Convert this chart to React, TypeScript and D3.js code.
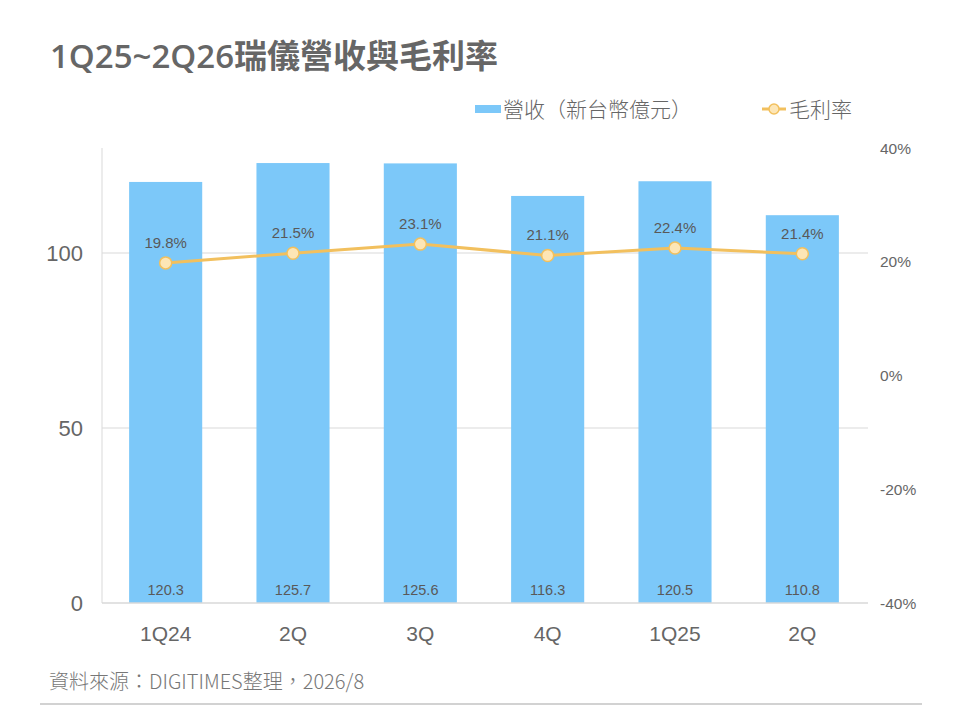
import * as d3 from 'd3';

const quarters = ['1Q24', '2Q', '3Q', '4Q', '1Q25', '2Q'];
const revenue = [120.3, 125.7, 125.6, 116.3, 120.5, 110.8];
const grossMargin = [19.8, 21.5, 23.1, 21.1, 22.4, 21.4];
const leftTicks = [0, 50, 100];
const rightTicks = [-40, -20, 0, 20, 40];

const W = 960;
const H = 720;
const plot = { left: 102, right: 866, top: 148, bottom: 603 };

const LATIN = '"Liberation Sans", Arial, "Noto Sans CJK TC", sans-serif';
const TITLE = '"Open Sans", "Noto Sans CJK TC", sans-serif';
const CJK = '"Noto Sans CJK TC", sans-serif';
const BAR = '#7cc8f9';
const LINE = '#f2c05e';
const TEXT = '#666666';
const GRID = '#d9d9d9';

export default function App() {
  // band scale keyed by index since "2Q" repeats
  const x = d3.scaleBand<number>()
    .domain(quarters.map((_, i) => i))
    .range([plot.left, plot.right])
    .paddingInner(0.426)
    .paddingOuter(0.213);

  const yL = d3.scaleLinear().domain([0, 130]).range([plot.bottom, plot.top]);
  const yR = d3.scaleLinear().domain([-40, 40]).range([plot.bottom, plot.top]);

  const cx = (i: number) => (x(i) || 0) + x.bandwidth() / 2;

  const line = d3.line<number>()
    .x((_, i) => cx(i))
    .y(d => yR(d));

  return (
    <svg width={W} height={H} style={{ position: 'absolute', left: 0, top: 0, background: '#fff' }}>
      {/* title */}
      <text x={50} y={68} fontFamily={TITLE} fontSize={33} fontWeight={600} fill={TEXT}>
        1Q25~2Q26瑞儀營收與毛利率
      </text>

      {/* legend */}
      <rect x={475} y={105} width={26} height={8} fill={BAR} />
      <text x={503} y={117} fontFamily={CJK} fontSize={21} fontWeight={300} fill={TEXT}>營收（新台幣億元）</text>
      <line x1={762} x2={786} y1={109} y2={109} stroke={LINE} strokeWidth={3} />
      <circle cx={774} cy={109} r={5} fill="#fde6b6" stroke={LINE} strokeWidth={1.5} />
      <text x={789} y={117} fontFamily={CJK} fontSize={21} fontWeight={300} fill={TEXT}>毛利率</text>

      {/* grid */}
      {leftTicks.filter(t => t > 0).map(t => (
        <line key={t} x1={plot.left} x2={868} y1={yL(t)} y2={yL(t)} stroke={GRID} strokeWidth={1} />
      ))}
      <line x1={plot.left} x2={plot.left} y1={plot.top} y2={plot.bottom} stroke={GRID} strokeWidth={1} />

      {/* bars */}
      {revenue.map((v, i) => (
        <rect key={i} x={x(i)} y={yL(v)} width={x.bandwidth()} height={yL(0) - yL(v)} fill={BAR} />
      ))}
      <line x1={plot.left} x2={868} y1={plot.bottom} y2={plot.bottom} stroke={GRID} strokeWidth={1.5} />

      {/* bar value labels */}
      {revenue.map((v, i) => (
        <text key={i} x={cx(i)} y={595} textAnchor="middle" fontFamily={LATIN} fontSize={14.5} fill="#595959">
          {v.toFixed(1)}
        </text>
      ))}

      {/* margin line */}
      <path d={line(grossMargin) || ''} fill="none" stroke={LINE} strokeWidth={3} />
      {grossMargin.map((v, i) => (
        <g key={i}>
          <circle cx={cx(i)} cy={yR(v)} r={6} fill="#fde6b6" stroke={LINE} strokeWidth={1.5} />
          <text x={cx(i)} y={yR(v) - 15} textAnchor="middle" fontFamily={LATIN} fontSize={15} fill="#595959">
            {v.toFixed(1)}%
          </text>
        </g>
      ))}

      {/* left axis */}
      {leftTicks.map(t => (
        <text key={t} x={83} y={yL(t)} dy="0.36em" textAnchor="end" fontFamily={LATIN} fontSize={22} fill={TEXT}>
          {t}
        </text>
      ))}

      {/* right axis */}
      {rightTicks.map(t => (
        <text key={t} x={880} y={yR(t)} dy="0.36em" fontFamily={LATIN} fontSize={15.5} fill={TEXT}>
          {t}%
        </text>
      ))}

      {/* x axis */}
      {quarters.map((q, i) => (
        <text key={i} x={cx(i)} y={641} textAnchor="middle" fontFamily={LATIN} fontSize={21} fill={TEXT}>
          {q}
        </text>
      ))}

      {/* footer */}
      <text x={49} y={689} fontFamily={CJK} fontSize={20} fontWeight={300} fill="#777777">
        資料來源：DIGITIMES整理，2026/8
      </text>
      <line x1={40} x2={922} y1={704} y2={704} stroke="#a6a6a6" strokeWidth={1.2} />
    </svg>
  );
}
